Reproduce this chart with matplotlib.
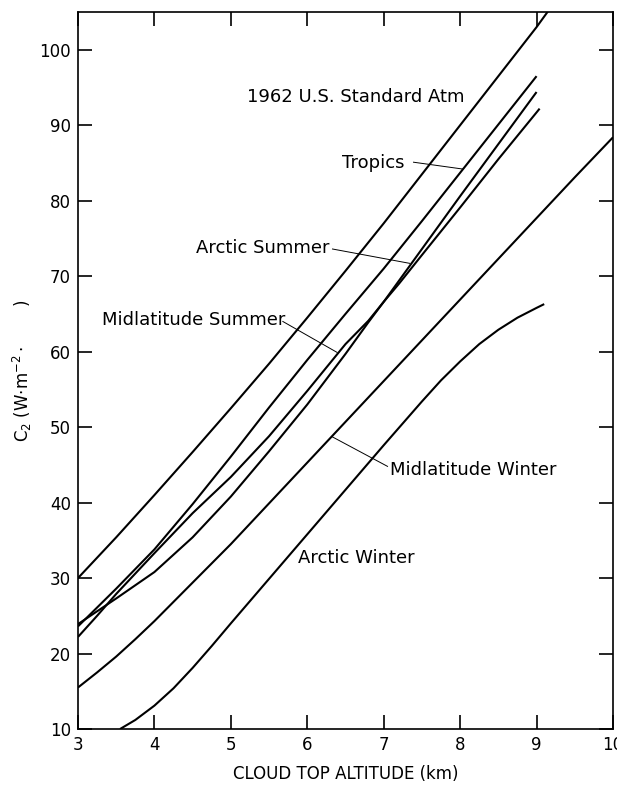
import matplotlib.pyplot as plt
import numpy as np

# values (cloud top altitude in km, C2 in W m-2 ...)
std_x = [3.0, 3.5, 4.0, 4.5, 5.0, 5.5, 6.0, 6.5, 7.0, 7.5, 8.0, 8.5, 9.0, 9.2]
std_y = [30.0, 35.4, 41.0, 46.7, 52.5, 58.4, 64.5, 70.7, 77.0, 83.5, 90.0, 96.5, 103.0, 105.8]

trop_x = [3.0, 3.25, 3.5, 4.0, 4.5, 5.0, 5.5, 6.0, 6.5, 7.0, 7.5, 8.0, 8.5, 9.0]
trop_y = [23.6, 26.1, 28.6, 33.8, 39.8, 46.1, 52.6, 58.9, 65.0, 71.0, 77.3, 83.7, 90.1, 96.5]

asum_x = [3.0, 3.25, 3.5, 4.0, 4.5, 5.0, 5.5, 6.0, 6.5, 6.8, 7.0, 7.2, 7.5, 8.0, 8.5, 9.0]
asum_y = [23.9, 25.6, 27.3, 30.8, 35.4, 40.8, 46.8, 53.0, 59.7, 63.9, 66.6, 69.4, 73.6, 80.6, 87.5, 94.4]

msum_x = [3.0, 3.25, 3.5, 4.0, 4.5, 5.0, 5.5, 6.0, 6.5, 6.8, 7.0, 7.2, 7.5, 8.0, 8.5, 9.0, 9.04]
msum_y = [22.2, 25.0, 27.9, 33.3, 38.6, 43.4, 48.8, 54.8, 61.0, 64.1, 66.6, 69.0, 72.8, 79.1, 85.5, 91.7, 92.2]

mwin_x = [3.0, 3.25, 3.5, 3.75, 4.0, 4.5, 5.0, 5.5, 6.0, 6.5, 7.0, 7.5, 8.0, 8.5, 9.0, 9.5, 10.0]
mwin_y = [15.5, 17.5, 19.6, 21.9, 24.3, 29.4, 34.5, 39.9, 45.3, 50.7, 56.1, 61.5, 66.9, 72.3, 77.7, 83.1, 88.4]

awin_x = [3.55, 3.75, 4.0, 4.25, 4.5, 4.75, 5.0, 5.5, 6.0, 6.5, 7.0, 7.5, 7.75, 8.0, 8.25, 8.5, 8.75, 9.0, 9.1]
awin_y = [10.0, 11.2, 13.1, 15.4, 18.1, 21.0, 24.0, 29.9, 35.8, 41.7, 47.6, 53.4, 56.2, 58.7, 61.0, 62.9, 64.5, 65.8, 66.3]

x_ticks = [3, 4, 5, 6, 7, 8, 9, 10]
y_ticks = [10, 20, 30, 40, 50, 60, 70, 80, 90, 100]

plt.rcParams['font.family'] = ['DejaVu Sans']

fig = plt.figure(figsize=(6.17, 7.85), dpi=100)
ax = fig.add_axes([0.1264, 0.0713, 0.8671, 0.9134])

for xs, ys in [(std_x, std_y), (trop_x, trop_y), (asum_x, asum_y),
               (msum_x, msum_y), (mwin_x, mwin_y), (awin_x, awin_y)]:
    ax.plot(xs, ys, color='black', linewidth=1.5, solid_capstyle='butt')

# curve labels and leader lines
ax.text(5.21, 93.7, '1962 U.S. Standard Atm', fontsize=13, va='center')
ax.text(6.46, 85.0, 'Tropics', fontsize=13, va='center')
ax.plot([7.39, 8.03], [85.1, 84.2], color='black', linewidth=0.7)
ax.text(4.55, 73.7, 'Arctic Summer', fontsize=13, va='center')
ax.plot([6.33, 7.34], [73.6, 71.7], color='black', linewidth=0.7)
ax.text(3.31, 64.2, 'Midlatitude Summer', fontsize=13, va='center')
ax.plot([5.68, 6.39], [64.0, 59.9], color='black', linewidth=0.7)
ax.text(7.08, 44.3, 'Midlatitude Winter', fontsize=13, va='center')
ax.plot([7.05, 6.33], [44.8, 48.7], color='black', linewidth=0.7)
ax.text(5.88, 32.6, 'Arctic Winter', fontsize=13, va='center')

ax.set_xlim(3, 10)
ax.set_ylim(10, 105)
ax.set_xticks(x_ticks)
ax.set_yticks(y_ticks)
ax.tick_params(direction='in', length=10, width=1.2, labelsize=12,
               top=True, right=True, pad=5)
for s in ax.spines.values():
    s.set_linewidth(1.2)

ax.set_xlabel('CLOUD TOP ALTITUDE (km)', fontsize=12, labelpad=8)
ax.set_ylabel(r'C$_2$ (W$\cdot$m$^{-2}\cdot$       )', fontsize=12, labelpad=4)

fig.savefig('out.png', dpi=100)
